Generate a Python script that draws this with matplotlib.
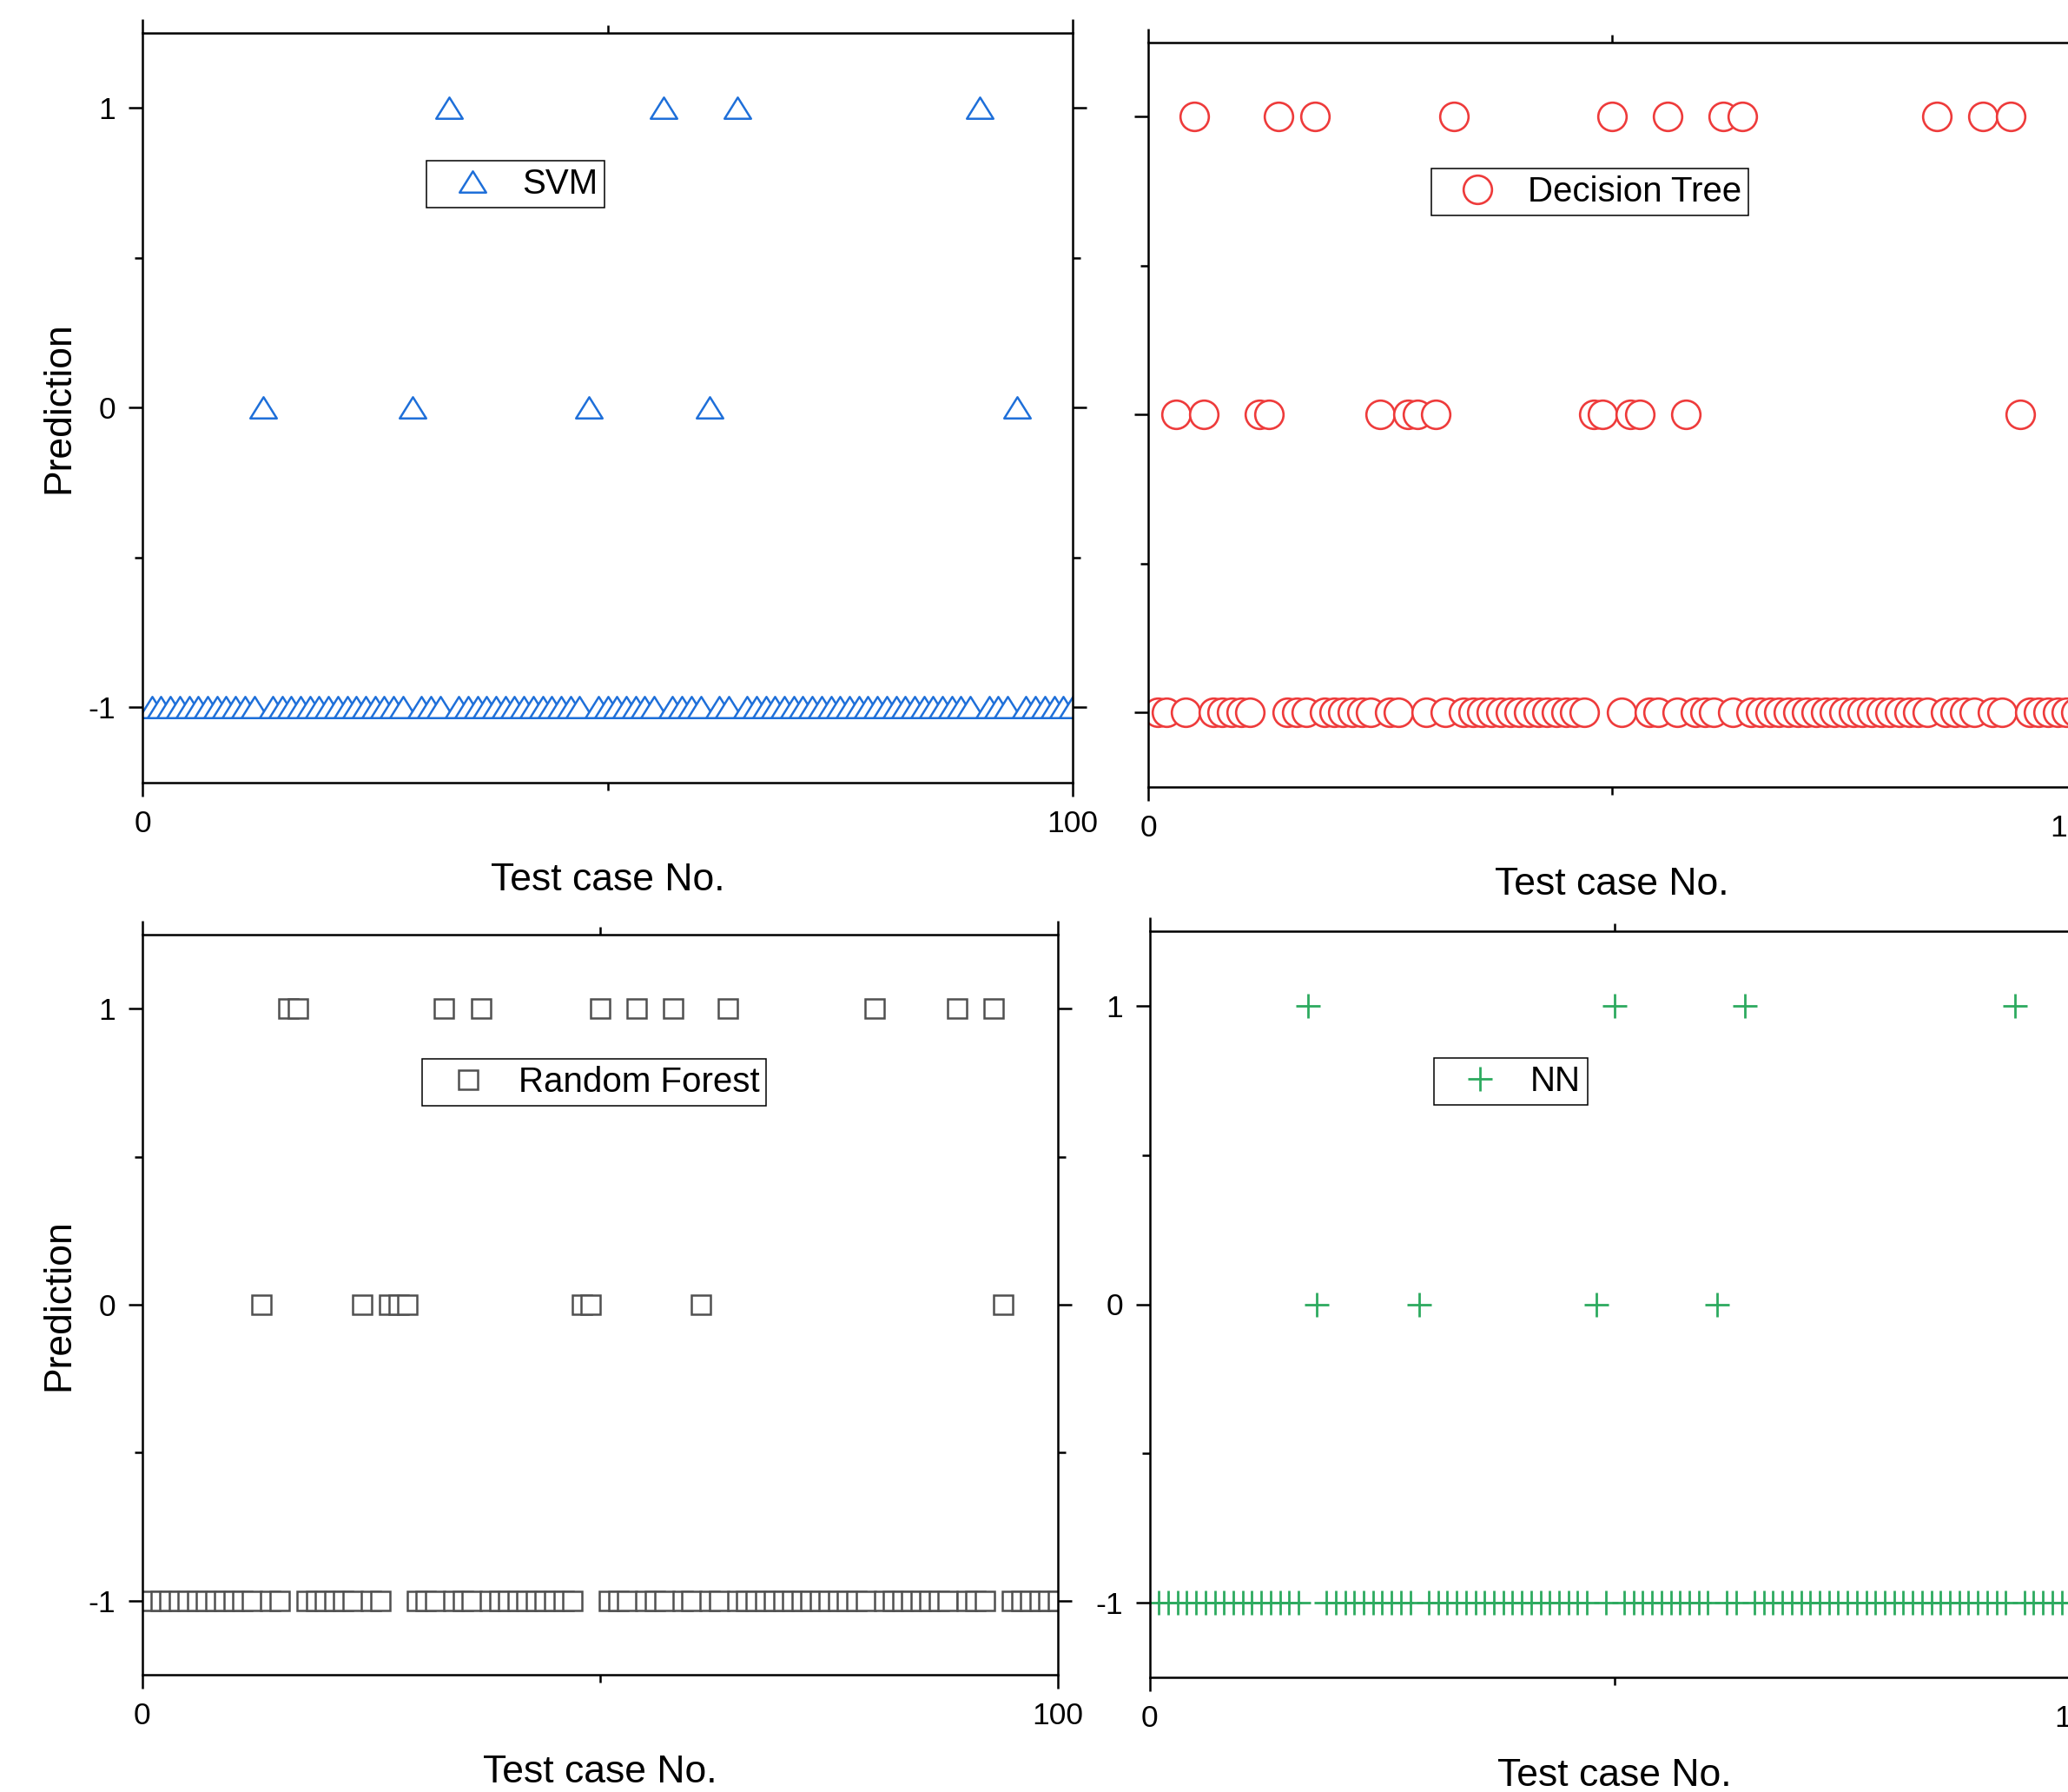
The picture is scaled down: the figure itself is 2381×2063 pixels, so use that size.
import matplotlib
matplotlib.use('Agg')
import matplotlib.pyplot as plt
from matplotlib.path import Path
from matplotlib.ticker import FixedLocator

plt.rcParams['font.family'] = ['Liberation Sans', 'DejaVu Sans']
plt.rcParams['axes.unicode_minus'] = False

# ---------------- data ----------------
test_case = list(range(1, 101))

svm_pred = [
    -1, -1, -1, -1, -1, -1, -1, -1, -1, -1,
    -1, -1, 0, -1, -1, -1, -1, -1, -1, -1,
    -1, -1, -1, -1, -1, -1, -1, -1, 0, -1,
    -1, -1, 1, -1, -1, -1, -1, -1, -1, -1,
    -1, -1, -1, -1, -1, -1, -1, 0, -1, -1,
    -1, -1, -1, -1, -1, 1, -1, -1, -1, -1,
    0, -1, -1, 1, -1, -1, -1, -1, -1, -1,
    -1, -1, -1, -1, -1, -1, -1, -1, -1, -1,
    -1, -1, -1, -1, -1, -1, -1, -1, -1, 1,
    -1, -1, -1, 0, -1, -1, -1, -1, -1, -1,
]

dt_pred = [
    -1, -1, 0, -1, 1, 0, -1, -1, -1, -1,
    -1, 0, 0, 1, -1, -1, -1, 1, -1, -1,
    -1, -1, -1, -1, 0, -1, -1, 0, 0, -1,
    0, -1, 1, -1, -1, -1, -1, -1, -1, -1,
    -1, -1, -1, -1, -1, -1, -1, 0, 0, 1,
    -1, 0, 0, -1, -1, 1, -1, 0, -1, -1,
    -1, 1, -1, 1, -1, -1, -1, -1, -1, -1,
    -1, -1, -1, -1, -1, -1, -1, -1, -1, -1,
    -1, -1, -1, -1, 1, -1, -1, -1, -1, 1,
    -1, -1, 1, 0, -1, -1, -1, -1, -1, -1,
]

rf_pred = [
    -1, -1, -1, -1, -1, -1, -1, -1, -1, -1,
    -1, -1, 0, -1, -1, 1, 1, -1, -1, -1,
    -1, -1, -1, 0, -1, -1, 0, 0, 0, -1,
    -1, -1, 1, -1, -1, -1, 1, -1, -1, -1,
    -1, -1, -1, -1, -1, -1, -1, 0, 0, 1,
    -1, -1, -1, 1, -1, -1, -1, 1, -1, -1,
    0, -1, -1, 1, -1, -1, -1, -1, -1, -1,
    -1, -1, -1, -1, -1, -1, -1, -1, -1, 1,
    -1, -1, -1, -1, -1, -1, -1, -1, 1, -1,
    -1, -1, 1, 0, -1, -1, -1, -1, -1, -1,
]

nn_pred = [
    -1, -1, -1, -1, -1, -1, -1, -1, -1, -1,
    -1, -1, -1, -1, -1, -1, 1, 0, -1, -1,
    -1, -1, -1, -1, -1, -1, -1, -1, 0, -1,
    -1, -1, -1, -1, -1, -1, -1, -1, -1, -1,
    -1, -1, -1, -1, -1, -1, -1, 0, -1, 1,
    -1, -1, -1, -1, -1, -1, -1, -1, -1, -1,
    0, -1, -1, 1, -1, -1, -1, -1, -1, -1,
    -1, -1, -1, -1, -1, -1, -1, -1, -1, -1,
    -1, -1, -1, -1, -1, -1, -1, -1, -1, -1,
    -1, -1, 1, -1, -1, -1, -1, -1, -1, -1,
]

model_names = ['SVM', 'Decision Tree', 'Random Forest', 'NN']
x_major_ticks = [0, 100]
x_major_labels = ['0', '100']
x_minor_ticks = [50]
y_major_ticks = [-1, 0, 1]
y_major_labels = ['-1', '0', '1']
y_minor_ticks = [-0.5, 0.5]
x_label = 'Test case No.'
y_label = 'Prediction'

# ---------------- figure ----------------
W, H = 2381, 2063
fig = plt.figure(figsize=(W / 100, H / 100), dpi=100)

tri = Path([(0, 0.8), (-1, -0.8), (1, -0.8), (0, 0.8)],
           [Path.MOVETO, Path.LINETO, Path.LINETO, Path.CLOSEPOLY])

panels = [
    dict(y=svm_pred, name=model_names[0], marker=tri, color='#1E6FD9', ms=22, mew=1.8,
         box=(164, 1235, 38, 900.5), leg=(490.5, 185), ylabels=True, ytitle=True),
    dict(y=dt_pred, name=model_names[1], marker='o', color='#EE3B3B', ms=23.5, mew=1.9,
         box=(1322, 2390, 48.5, 906), leg=(1648, 194), ylabels=False, ytitle=False),
    dict(y=rf_pred, name=model_names[2], marker='s', color='#505050', ms=16.5, mew=1.8,
         box=(163.5, 1218, 1076, 1928), leg=(486, 1219), ylabels=True, ytitle=True),
    dict(y=nn_pred, name=model_names[3], marker='+', color='#2DAA5F', ms=20.5, mew=2.0,
         box=(1323.6, 2395, 1072, 1931), leg=(1651, 1218), ylabels=True, ytitle=False),
]

for p in panels:
    x0, x1, yt, yb = p['box']
    ax = fig.add_axes([x0 / W, 1 - yb / H, (x1 - x0) / W, (yb - yt) / H])
    ax.plot(test_case, p['y'], linestyle='none', marker=p['marker'],
            markersize=p['ms'], markeredgewidth=p['mew'],
            markeredgecolor=p['color'], markerfacecolor='white',
            color=p['color'], label=p['name'])
    ax.set_xlim(0, 100)
    ax.set_ylim(-1.25, 1.25)

    ax.xaxis.set_major_locator(FixedLocator(x_major_ticks))
    ax.set_xticklabels(x_major_labels)
    ax.xaxis.set_minor_locator(FixedLocator(x_minor_ticks))
    ax.yaxis.set_major_locator(FixedLocator(y_major_ticks))
    ax.set_yticklabels(y_major_labels)
    ax.yaxis.set_minor_locator(FixedLocator(y_minor_ticks))

    ax.tick_params(which='both', direction='out', top=True, right=True,
                   width=1.8, color='black')
    ax.tick_params(which='major', length=11.5)
    ax.tick_params(which='minor', length=6.5)
    ax.tick_params(axis='x', labeltop=False, labelbottom=True, labelsize=25.5, pad=11)
    ax.tick_params(axis='y', labelleft=p['ylabels'], labelright=False, labelsize=25.5, pad=10.5)
    for s in ax.spines.values():
        s.set_linewidth(1.8)
        s.set_color('black')

    h = yb - yt
    ax.set_xlabel(x_label, fontsize=32)
    ax.xaxis.set_label_coords(0.5, -(113.0 / h))
    ax.xaxis.label.set_va('center')
    if p['ytitle']:
        ax.set_ylabel(y_label, fontsize=32)
        ax.yaxis.set_label_coords((68 - x0) / (x1 - x0), 0.5)
        ax.yaxis.label.set_va('center')

    lx, ly = p['leg']
    leg = ax.legend(loc='upper left', bbox_to_anchor=(lx / W, 1 - ly / H),
                    bbox_transform=fig.transFigure, borderaxespad=0,
                    frameon=True, fancybox=False, framealpha=1,
                    edgecolor='black', fontsize=29, handlelength=2.25,
                    handletextpad=0.3, borderpad=0.2, numpoints=1)
    leg.get_frame().set_linewidth(1.1)

fig.savefig('out.png', dpi=100)
